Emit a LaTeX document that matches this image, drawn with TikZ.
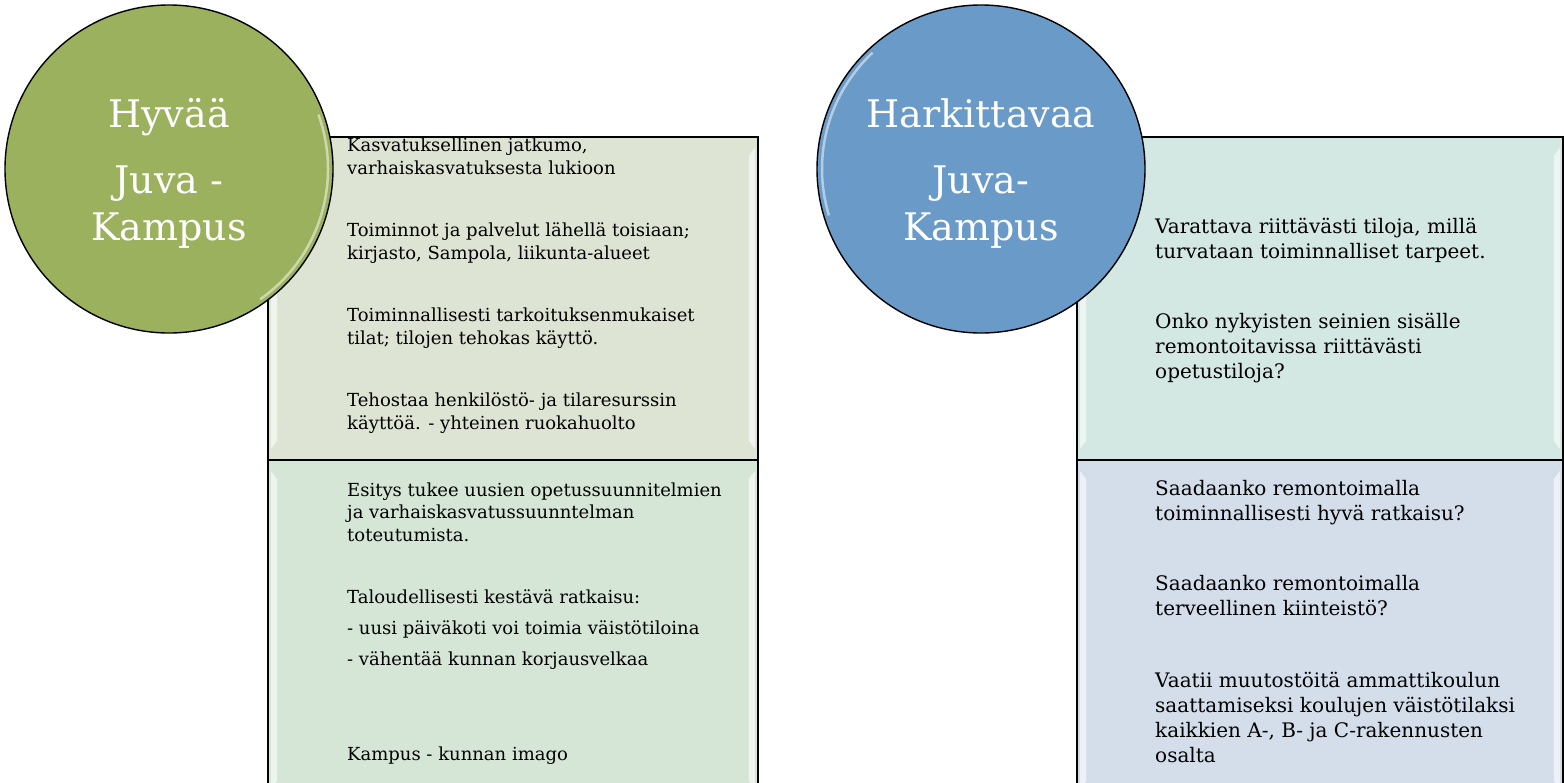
\documentclass[tikz,border=0pt]{standalone}
\usepackage{fontspec}
\setmainfont{DejaVu Serif}
\usepackage{tikz}
\usetikzlibrary{positioning, calc}

\definecolor{hyvgreen}{RGB}{155,177,94}
\definecolor{harblue}{RGB}{106,154,199}
\definecolor{hyvtopfill}{RGB}{222,228,212}
\definecolor{hyvbotfill}{RGB}{213,230,214}
\definecolor{hartopfill}{RGB}{212,232,227}
\definecolor{harbotfill}{RGB}{212,222,234}

\begin{document}
\begin{tikzpicture}[
  x=1pt, y=-1pt,
  panel/.style={draw=black, line width=1.8pt, rectangle, anchor=north west,
                inner sep=0pt},
  bubble/.style={circle, draw=black, line width=1.4pt, minimum size=328pt,
                 inner sep=0pt, text=white, align=center,
                 text height=152pt, text depth=10pt,
                 font=\fontsize{38}{47}\selectfont},
  leftitem/.style={anchor=base west, align=left, inner sep=0pt,
                   font={\fontsize{18}{22.5}\selectfont\lineskiplimit-20pt\relax}},
  rightitem/.style={anchor=base west, align=left, inner sep=0pt,
                    font={\fontsize{20}{25}\selectfont\lineskiplimit-20pt\relax}}
]
  \useasboundingbox (0,0) rectangle (1564,782);
  \clip (0,0) rectangle (1564,782);

  % Panels
  \node[panel, fill=hyvtopfill, minimum width=490pt, minimum height=323pt]
    (hyvtop) at (267,136) {};
  \node[panel, fill=hyvbotfill, minimum width=490pt, minimum height=340pt]
    (hyvbot) at (267,459) {};
  \node[panel, fill=hartopfill, minimum width=486pt, minimum height=323pt]
    (hartop) at (1076,136) {};
  \node[panel, fill=harbotfill, minimum width=486pt, minimum height=340pt]
    (harbot) at (1076,459) {};

  % Bevel highlights
  \foreach \p in {hyvtop, hyvbot, hartop, harbot} {
    \fill[white, opacity=.6] ($(\p.north west)+(4,12)$) -- ($(\p.north west)+(10,20)$)
      -- ($(\p.south west)+(10,-20)$) -- ($(\p.south west)+(4,-12)$) -- cycle;
    \fill[white, opacity=.6] ($(\p.north east)+(-4,12)$) -- ($(\p.north east)+(-10,20)$)
      -- ($(\p.south east)+(-10,-20)$) -- ($(\p.south east)+(-4,-12)$) -- cycle;
  }

  % Circles
  \node[bubble, fill=hyvgreen] (hyvaa) at (169,169)
    {Hyvää\\[19pt]Juva -\\Kampus};
  \node[bubble, fill=harblue] (harkittavaa) at (981,169)
    {Harkittavaa\\[19pt]Juva-\\Kampus};
  \draw[white, opacity=.5, line width=2.5pt] (hyvaa.center) ++(-20:159) arc (-20:55:159);
  \draw[white, opacity=.5, line width=2.5pt] (harkittavaa.center) ++(-197:159) arc (-197:-133:159);

  % Left texts
  \node[leftitem] (jatkumo) at (347,174)
    {Kasvatuksellinen jatkumo,\\varhaiskasvatuksesta lukioon};
  \node[leftitem] (palvelut) at (347,259)
    {Toiminnot ja palvelut lähellä toisiaan;\\kirjasto, Sampola, liikunta-alueet};
  \node[leftitem] (tilat) at (347,344)
    {Toiminnallisesti tarkoituksenmukaiset\\tilat; tilojen tehokas käyttö.};
  \node[leftitem] (resurssi) at (347,429)
    {Tehostaa henkilöstö- ja tilaresurssin\\käyttöä. - yhteinen ruokahuolto};
  \node[leftitem] (esitys) at (347,541)
    {Esitys tukee uusien opetussuunnitelmien\\ja varhaiskasvatussuunntelman\\toteutumista.};
  \node[leftitem] (talous) at (347,665)
    {Taloudellisesti kestävä ratkaisu:\\[8.5pt]- uusi päiväkoti voi toimia väistötiloina\\[8.5pt]- vähentää kunnan korjausvelkaa};
  \node[leftitem] (imago) at (347,760) {Kampus - kunnan imago};

  % Right texts
  \node[rightitem] (varattava) at (1155,258)
    {Varattava riittävästi tiloja, millä\\turvataan toiminnalliset tarpeet.};
  \node[rightitem] (seinat) at (1155,378)
    {Onko nykyisten seinien sisälle\\remontoitavissa riittävästi\\opetustiloja?};
  \node[rightitem] (ratkaisu) at (1155,520)
    {Saadaanko remontoimalla\\toiminnallisesti hyvä ratkaisu?};
  \node[rightitem] (kiinteisto) at (1155,615)
    {Saadaanko remontoimalla\\terveellinen kiinteistö?};
  \node[rightitem] (muutos) at (1155,762)
    {Vaatii muutostöitä ammattikoulun\\saattamiseksi koulujen väistötilaksi\\kaikkien A-, B- ja C-rakennusten\\osalta};
\end{tikzpicture}
\end{document}
